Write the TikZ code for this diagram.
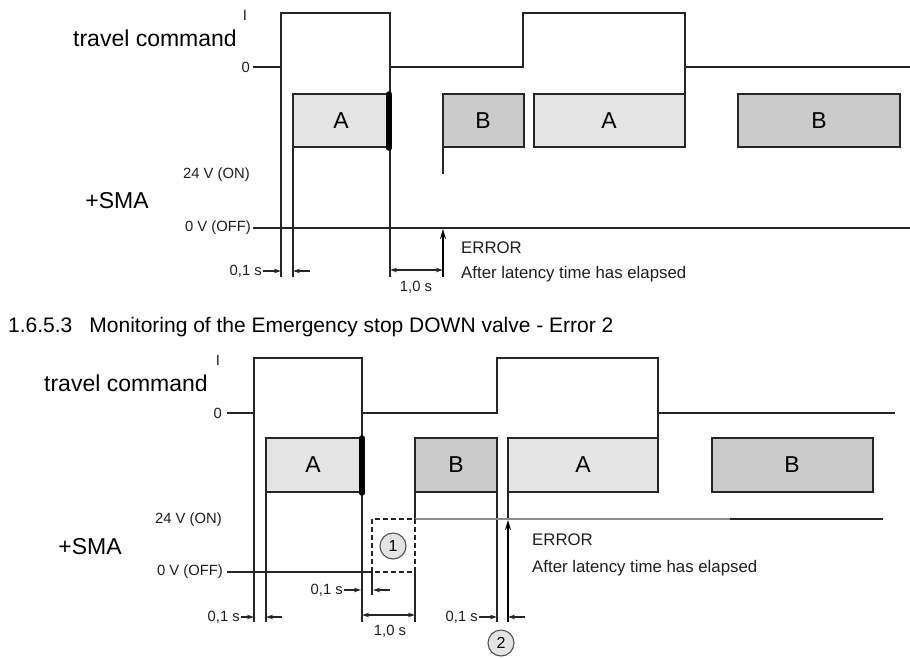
\documentclass[tikz,border=0pt]{standalone}
\usepackage{fontspec}
\setmainfont{Liberation Sans}
\usetikzlibrary{arrows.meta}
\definecolor{lightbox}{HTML}{E4E4E4}
\definecolor{darkbox}{HTML}{CBCBCB}
\definecolor{ln}{HTML}{262626}
\definecolor{txt}{HTML}{1E1E1E}
\tikzset{
  sig/.style={draw=ln, line width=1.8pt, line join=miter},
  boxa/.style={draw=ln, line width=1.8pt, fill=lightbox},
  boxb/.style={draw=ln, line width=1.8pt, fill=darkbox},
  bar/.style={draw=black, line width=5.5pt, line cap=round},
  dimarrow/.style={draw=ln, line width=1.1pt, -{Stealth[length=7pt,width=4.5pt]}},
  dimboth/.style={draw=ln, line width=1.1pt, {Stealth[length=7pt,width=4.5pt]}-{Stealth[length=7pt,width=4.5pt]}},
  errarrow/.style={draw=black, line width=1.6pt, -{Stealth[length=10pt,width=6pt]}},
  bigtxt/.style={inner sep=0pt, text=black, font=\fontsize{23}{25}\selectfont},
  smalltxt/.style={inner sep=0pt, text=txt, font=\fontsize{14.8}{16}\selectfont},
  midtxt/.style={inner sep=0pt, text=txt, font=\fontsize{16.8}{18}\selectfont},
  titletxt/.style={inner sep=0pt, text=black, font=\fontsize{21}{23}\selectfont},
  markcirc/.style={circle, draw=ln!80, line width=1.1pt, fill=lightbox, minimum size=26pt, inner sep=0pt, font=\fontsize{16}{17}\selectfont},
}
\begin{document}
\begin{tikzpicture}[x=1pt,y=-1pt]
\useasboundingbox (0,0) rectangle (910,657);

% ================= TOP DIAGRAM =================
\node[smalltxt] (tI) at (245,15) {I};
\node[bigtxt, anchor=east] (tTC) at (237,38) {travel command};
\node[smalltxt, anchor=east] (t0) at (250,67) {0};
% travel command signal
\draw[sig] (253,67) -- (281,67) -- (281,13) -- (390,13) -- (390,67) -- (523,67) -- (523,13) -- (685,13) -- (685,94);
\draw[sig] (685,67) -- (910,67);
\draw[sig] (281,67) -- (281,277);
\draw[sig] (390,67) -- (390,277);
% boxes
\draw[boxa] (293,94) rectangle (389,147);
\node at (341,121) [bigtxt] (tA1) {A};
\draw[sig] (293,147) -- (293,277);
\draw[bar] (389,94) -- (389,148);
\draw[boxb] (443,94) rectangle (524,147);
\node at (483,121) [bigtxt] (tB1) {B};
\draw[sig] (443,147) -- (443,174);
\draw[boxa] (534,94) rectangle (685,147);
\node at (609,121) [bigtxt] (tA2) {A};
\draw[boxb] (738,94) rectangle (900,147);
\node at (819,121) [bigtxt] (tB2) {B};
% SMA
\node[smalltxt, anchor=east] (t24) at (250,175) {24 V (ON)};
\node[bigtxt] (tSMA) at (117,201) {+SMA};
\node[smalltxt, anchor=east] (t0V) at (251,228) {0 V (OFF)};
\draw[sig] (253,228) -- (910,228);
% error arrow
\draw[errarrow] (443,277) -- (443,229);
\node[midtxt, anchor=west] (tErr) at (461,248) {ERROR};
\node[midtxt, anchor=west] (tAfter) at (461,274) {After latency time has elapsed};
% dimensions
\node[smalltxt, anchor=east] (tdim1) at (262,271) {0,1 s};
\draw[dimarrow] (263,271) -- (281,271);
\draw[dimarrow] (310,271) -- (293,271);
\draw[dimboth] (390,270) -- (443,270);
\node[smalltxt] (tdim2) at (416,287) {1,0 s};

% ================= TITLE =================
\node[titletxt, anchor=west] (title) at (8,327) {1.6.5.3\hspace{17pt}Monitoring of the Emergency stop DOWN valve - Error 2};

% ================= BOTTOM DIAGRAM =================
\node[smalltxt] (bI) at (218,360) {I};
\node[bigtxt, anchor=east] (bTC) at (208,383) {travel command};
\node[smalltxt, anchor=east] (b0) at (222,413) {0};
\draw[sig] (227,413) -- (254,413) -- (254,358) -- (362,358) -- (362,413) -- (497,413) -- (497,358) -- (658,358) -- (658,438);
\draw[sig] (658,413) -- (895,413);
\draw[sig] (254,413) -- (254,622);
\draw[sig] (362,413) -- (362,622);
% boxes
\draw[boxa] (266,438) rectangle (361,492);
\node at (313,465) [bigtxt] (bA1) {A};
\draw[sig] (266,492) -- (266,622);
\draw[bar] (362,438) -- (362,493);
\draw[boxb] (415,438) rectangle (497,492);
\node at (456,465) [bigtxt] (bB1) {B};
\draw[sig] (415,492) -- (415,519);
\draw[sig] (415,572) -- (415,622);
\draw[sig] (497,492) -- (497,622);
\draw[boxa] (508,438) rectangle (658,492);
\node at (583,465) [bigtxt] (bA2) {A};
\draw[sig] (508,492) -- (508,519);
\draw[boxb] (712,438) rectangle (873,492);
\node at (792,465) [bigtxt] (bB2) {B};
% SMA lines
\node[smalltxt, anchor=east] (b24) at (222,520) {24 V (ON)};
\node[bigtxt] (bSMA) at (90,547) {+SMA};
\node[smalltxt, anchor=east] (b0V) at (223,572) {0 V (OFF)};
\draw[draw=black!45, line width=1.5pt] (415,519) -- (730,519);
\draw[draw=ln, line width=1.8pt] (730,519) -- (883,519);
\draw[sig] (227,572) -- (372,572);
\draw[draw=ln, line width=1.3pt, dash pattern=on 5pt off 3pt] (372,519) rectangle (415,572);
\draw[sig] (372,572) -- (372,595);
\node[markcirc] (c1) at (393,546) {1};
% error arrow
\draw[errarrow] (508,622) -- (508,520);
\node[midtxt, anchor=west] (bErr) at (532,540) {ERROR};
\node[midtxt, anchor=west] (bAfter) at (532,568) {After latency time has elapsed};
% dimensions
\node[smalltxt, anchor=east] (bd1) at (343,590) {0,1 s};
\draw[dimarrow] (344,590) -- (361,590);
\draw[dimarrow] (390,590) -- (373,590);
\node[smalltxt, anchor=east] (bd2) at (240,617) {0,1 s};
\draw[dimarrow] (241,617) -- (254,617);
\draw[dimarrow] (282,617) -- (266,617);
\draw[dimboth] (362,615) -- (415,615);
\node[smalltxt] (bd3) at (390,631) {1,0 s};
\node[smalltxt, anchor=east] (bd4) at (478,617) {0,1 s};
\draw[dimarrow] (479,617) -- (497,617);
\draw[dimarrow] (525,617) -- (508,617);
\node[markcirc] (c2) at (501,643) {2};
\end{tikzpicture}
\end{document}
